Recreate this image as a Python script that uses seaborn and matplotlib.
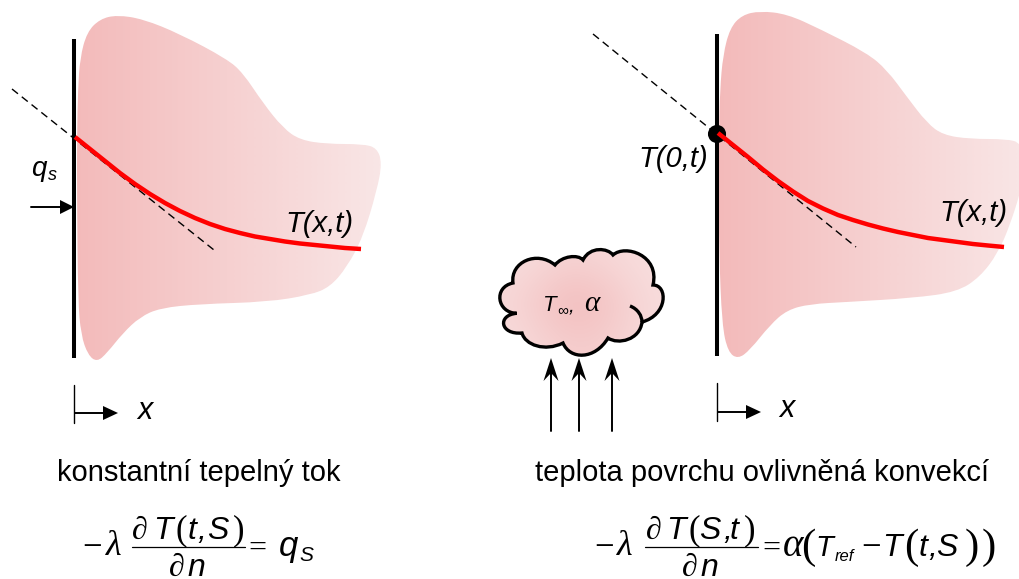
import numpy as np
import pandas as pd
import matplotlib
matplotlib.use("Agg")
import matplotlib.pyplot as plt
from matplotlib.colors import LinearSegmentedColormap
from matplotlib.patches import PathPatch, Polygon
from matplotlib.path import Path
import seaborn as sns

# --- outlines and curves in pixels ---
left_blob = [(77, 133), (78, 90), (80, 58), (87, 32), (100, 19), (117, 15), (143, 19), (180, 34), (227, 59),
             (243, 73), (263, 103), (283, 128), (300, 140), (327, 144), (363, 144), (377, 148), (382, 163),
             (377, 190), (363, 237), (347, 267), (330, 287), (310, 295), (267, 302), (200, 304), (160, 308),
             (140, 317), (123, 333), (107, 353), (97, 362), (88, 355), (81, 335), (78, 300), (77, 200)]
right_blob = [(719, 133), (720, 90), (723, 55), (730, 28), (742, 15), (760, 11), (787, 14), (820, 29), (867, 53),
              (887, 70), (907, 97), (927, 123), (943, 135), (970, 139), (1007, 139), (1021, 143), (1026, 165),
              (1021, 190), (1010, 225), (998, 253), (980, 277), (957, 292), (913, 298), (847, 302), (810, 304),
              (787, 310), (770, 325), (750, 350), (738, 359), (728, 352), (722, 325), (719, 250), (719, 180)]

left_curve_x = [75, 90, 105, 120, 135, 150, 165, 180, 195, 210, 225, 240, 255, 270, 285, 300, 315, 330, 345, 361]
left_curve_y = [137, 149, 161, 173, 184, 194, 203, 211, 218, 224, 229, 233, 236.5, 239, 241.5, 243.5, 245, 246.5, 248, 249]
right_curve_x = [718, 733, 748, 763, 778, 793, 808, 823, 838, 853, 868, 883, 898, 913, 928, 943, 958, 973, 988, 1004]
right_curve_y = [133, 145, 157, 169.5, 181, 191.5, 201, 208.5, 215, 220, 224.5, 228.5, 232, 235, 238, 240, 242, 244, 245.5, 247]

dash_left_x = [12, 214]
dash_left_y = [89, 250]
dash_right_x = [593, 856]
dash_right_y = [34, 247]

wall_left_x = [74, 74]
wall_left_y = [39, 358]
wall_right_x = [717, 717]
wall_right_y = [34, 356]

# cloud lobes in px: start point, then (control, control, end)
cloud_start = (516.7, 313.3)
cloud_lobes = [((497, 313), (493, 287), (513, 283)),
               ((510, 262), (537, 250), (555, 265)),
               ((562, 256), (578, 254), (583, 260)),
               ((590, 246), (608, 248), (613, 255)),
               ((625, 244), (660, 255), (653, 285)),
               ((668, 285), (668, 315), (642, 322)),
               ((640, 340), (618, 345), (608, 338)),
               ((595, 360), (570, 360), (563, 343)),
               ((545, 352), (525, 345), (522, 333)),
               ((500, 335), (497, 315), (516.7, 313.3))]
hook_start = (630, 306)
hook_lobe = ((638, 309), (642, 316), (642, 322))

cloud_shades = [[0.05, 0.15, 0.30, 0.25, 0.10, 0.00],
                [0.25, 0.55, 0.95, 0.85, 0.40, 0.10],
                [0.05, 0.25, 0.45, 0.45, 0.25, 0.05]]

# --- text: x, baseline, string, size, font, italic ---
SANS = "Liberation Sans"
SERIF = "Liberation Serif"
labels = [
    (57, 481, "konstantní tepelný tok", 21, SANS, False),
    (535, 481, "teplota povrchu ovlivněná konvekcí", 21, SANS, False),
    (285, 232, "T(x,t)", 21, SANS, True),
    (939, 221, "T(x,t)", 21, SANS, True),
    (638, 167, "T(0,t)", 21, SANS, True),
    (31, 176, "q", 20, SANS, True),
    (48, 180, "s", 13, SANS, True),
    (137, 419, "x", 22, SANS, True),
    (779, 417, "x", 22, SANS, True),
    (543, 311, "T", 16, SANS, True),
    (557, 314, "∞", 11, SANS, True),
    (569, 311, ",", 15, SANS, True),
    (584, 311, "α", 21, SERIF, True),
    # left equation
    (82, 557, "−", 25, SERIF, False),
    (106, 555, "λ", 26, SERIF, True),
    (132, 539, "∂", 23, SERIF, False),
    (153, 539, "T", 23, SANS, True),
    (176, 539, "(", 25, SERIF, False),
    (188, 539, "t", 23, SANS, True),
    (197, 539, ",", 23, SANS, True),
    (207, 539, "S", 23, SANS, True),
    (233, 539, ")", 25, SERIF, False),
    (169, 576, "∂", 23, SERIF, False),
    (187, 576, "n", 23, SANS, True),
    (248, 557, "=", 23, SERIF, False),
    (279, 556, "q", 25, SANS, True),
    (299, 561, "S", 15, SANS, True),
    # right equation
    (594, 557, "−", 25, SERIF, False),
    (617, 555, "λ", 26, SERIF, True),
    (646, 539, "∂", 23, SERIF, False),
    (666, 539, "T", 23, SANS, True),
    (689, 539, "(", 25, SERIF, False),
    (699, 539, "S", 23, SANS, True),
    (723, 539, ",", 23, SANS, True),
    (730, 539, "t", 23, SANS, True),
    (744, 539, ")", 25, SERIF, False),
    (682, 576, "∂", 23, SERIF, False),
    (700, 576, "n", 23, SANS, True),
    (762, 557, "=", 23, SERIF, False),
    (783, 556, "α", 28, SERIF, True),
    (801, 558, "(", 31, SERIF, False),
    (815, 556, "T", 21, SANS, True),
    (835, 561, "ref", 12, SANS, True),
    (861, 557, "−", 25, SERIF, False),
    (882, 556, "T", 23, SANS, True),
    (904, 558, "(", 31, SERIF, False),
    (919, 556, "t", 23, SANS, True),
    (928, 556, ",", 23, SANS, True),
    (936, 556, "S", 23, SANS, True),
    (965, 558, ")", 31, SERIF, False),
    (982, 558, ")", 31, SERIF, False),
]

# fraction bars
bars = [(132, 245, 547), (645, 758, 547)]

# arrows: tail, tip, head length, half width, notch
arrows = [((31, 207), (74, 207), 14, 7, 14),
          ((75, 413), (118, 413), 15, 7, 15),
          ((718, 412), (761, 412), 15, 7, 15),
          ((551, 431), (551, 358), 23, 7.5, 15),
          ((579, 431), (579, 358), 23, 7.5, 15),
          ((612, 431), (612, 358), 23, 7.5, 15)]


def smooth_path(points):
    """Closed smooth outline through the read points, with quadratic pieces."""
    pts = np.array(points, dtype=float)
    mids = (pts + np.roll(pts, -1, axis=0)) / 2
    verts = [mids[-1]]
    codes = [Path.MOVETO]
    for p, m in zip(pts, mids):
        verts += [p, m]
        codes += [Path.CURVE3, Path.CURVE3]
    return Path(verts, codes)


def lobes_path(start, lobes):
    verts = [start]
    codes = [Path.MOVETO]
    for c1, c2, end in lobes:
        verts += [c1, c2, end]
        codes += [Path.CURVE4] * 3
    return Path(verts, codes)


def draw_blob(ax, points, x0, x1):
    patch = PathPatch(smooth_path(points), facecolor="none", edgecolor="none")
    ax.add_patch(patch)
    # two cell image: colour only changes between the cell centres
    w = x1 - x0
    im = ax.imshow([[0.0, 1.0]], extent=(x0 - w / 2, x1 + w / 2, 579, 0), cmap=blob_cmap, vmin=0, vmax=1,
                   interpolation="bilinear", aspect="auto", zorder=1)
    im.set_clip_path(patch)


def draw_arrow(ax, tail, tip, head, half, notch):
    tail = np.array(tail, dtype=float)
    tip = np.array(tip, dtype=float)
    d = (tip - tail) / np.linalg.norm(tip - tail)
    n = np.array([-d[1], d[0]])
    ax.plot([tail[0], (tip - d * notch)[0]], [tail[1], (tip - d * notch)[1]], color="black", lw=1.4, zorder=5)
    ax.add_patch(Polygon([tip, tip - d * head + n * half, tip - d * notch, tip - d * head - n * half],
                         closed=True, facecolor="black", edgecolor="none", zorder=5))


sns.set_theme(style="white")
plt.rcParams["font.family"] = [SANS, "DejaVu Sans"]

blob_cmap = LinearSegmentedColormap.from_list("blob", ["#f3baba", "#f9e6e6"])
cloud_cmap = LinearSegmentedColormap.from_list("cloud", ["#f8dfdf", "#f2b9b9"])

fig = plt.figure(figsize=(10.19, 5.79), dpi=100)
ax = fig.add_axes([0, 0, 1, 1])

draw_blob(ax, left_blob, 76, 382)
draw_blob(ax, right_blob, 718, 1024)

# cloud fill, then its outline
cloud_patch = PathPatch(lobes_path(cloud_start, cloud_lobes), facecolor="none", edgecolor="none")
ax.add_patch(cloud_patch)
cim = ax.imshow(cloud_shades, extent=(490, 675, 365, 240), cmap=cloud_cmap, vmin=0, vmax=1,
                interpolation="bicubic", aspect="auto", zorder=1)
cim.set_clip_path(cloud_patch)
ax.add_patch(PathPatch(lobes_path(cloud_start, cloud_lobes), facecolor="none", edgecolor="black", lw=2.4, zorder=4))
ax.add_patch(PathPatch(lobes_path(hook_start, [hook_lobe]), facecolor="none", edgecolor="black", lw=2.4, zorder=4))

# walls
for wx, wy in [(wall_left_x, wall_left_y), (wall_right_x, wall_right_y)]:
    sns.lineplot(x=wx, y=wy, color="black", lw=2.9, sort=False, estimator=None, ax=ax, zorder=3, legend=False)

# tangents
for dx, dy in [(dash_left_x, dash_left_y), (dash_right_x, dash_right_y)]:
    line = sns.lineplot(x=dx, y=dy, color="black", lw=1.0, sort=False, estimator=None, ax=ax, zorder=3, legend=False)
    line.lines[-1].set_dashes((5.5, 3.5))

# contact point on the right wall
sns.scatterplot(x=[717], y=[134], s=170, color="black", edgecolor="none", ax=ax, zorder=4, legend=False)

# temperature profiles
curves = pd.DataFrame({
    "x": left_curve_x + right_curve_x,
    "y": left_curve_y + right_curve_y,
    "side": ["left"] * len(left_curve_x) + ["right"] * len(right_curve_x),
})
sns.lineplot(data=curves, x="x", y="y", units="side", estimator=None, sort=False, color="#ff0000",
             lw=3.2, ax=ax, zorder=5, legend=False)
for ln in ax.lines:
    ln.set_solid_capstyle("butt")
    ln.set_solid_joinstyle("round")

# x axis stubs at the walls
ax.plot([74, 74], [385, 423], color="black", lw=1.0, zorder=5)
ax.plot([717, 717], [383, 421], color="black", lw=1.0, zorder=5)

for tail, tip, head, half, notch in arrows:
    draw_arrow(ax, tail, tip, head, half, notch)

for x0, x1, y in bars:
    ax.plot([x0, x1], [y, y], color="black", lw=0.9, zorder=5)

for x, y, s, size, font, italic in labels:
    ax.text(x, y, s, fontsize=size, family=[font, "DejaVu Sans"], style="italic" if italic else "normal",
            ha="left", va="baseline", color="black", zorder=6)

ax.set_xlim(0, 1019)
ax.set_ylim(579, 0)
ax.set_xlabel("")
ax.set_ylabel("")
ax.axis("off")

fig.savefig("out.png", dpi=100)
